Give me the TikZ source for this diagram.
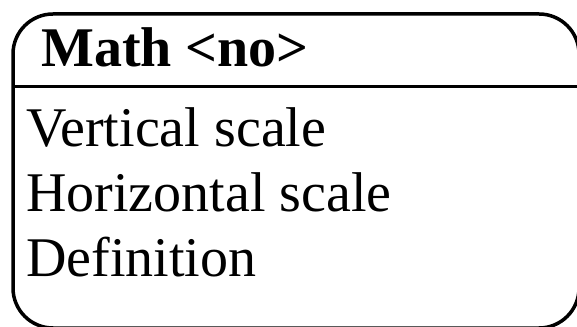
\documentclass[tikz,border=0pt]{standalone}
\usepackage{fontspec}
\setmainfont{Liberation Serif}
\begin{document}
\begin{tikzpicture}[x=1pt,y=1pt,
  txt/.style={anchor=base west,inner sep=0pt,font=\fontsize{56}{62}\selectfont},
  ttl/.style={txt,font=\fontsize{56}{62}\selectfont\bfseries}]
\useasboundingbox (0,0) rectangle (577,326);
\clip (0,0) rectangle (577,326);
\draw[line width=3.5pt,rounded corners=40pt] (13,-2) rectangle (579,312);
\coordinate (sl) at (13,239.5);
\coordinate (sr) at (579,239.5);
\draw[line width=3.5pt] (sl) -- (sr);
\node[ttl] (title) at (41,259) {Math <no>};
\node[txt] (a1) at (26,179) {Vertical scale};
\node[txt] (a2) at (26,114) {Horizontal scale};
\node[txt] (a3) at (26,49) {Definition};
\end{tikzpicture}
\end{document}
